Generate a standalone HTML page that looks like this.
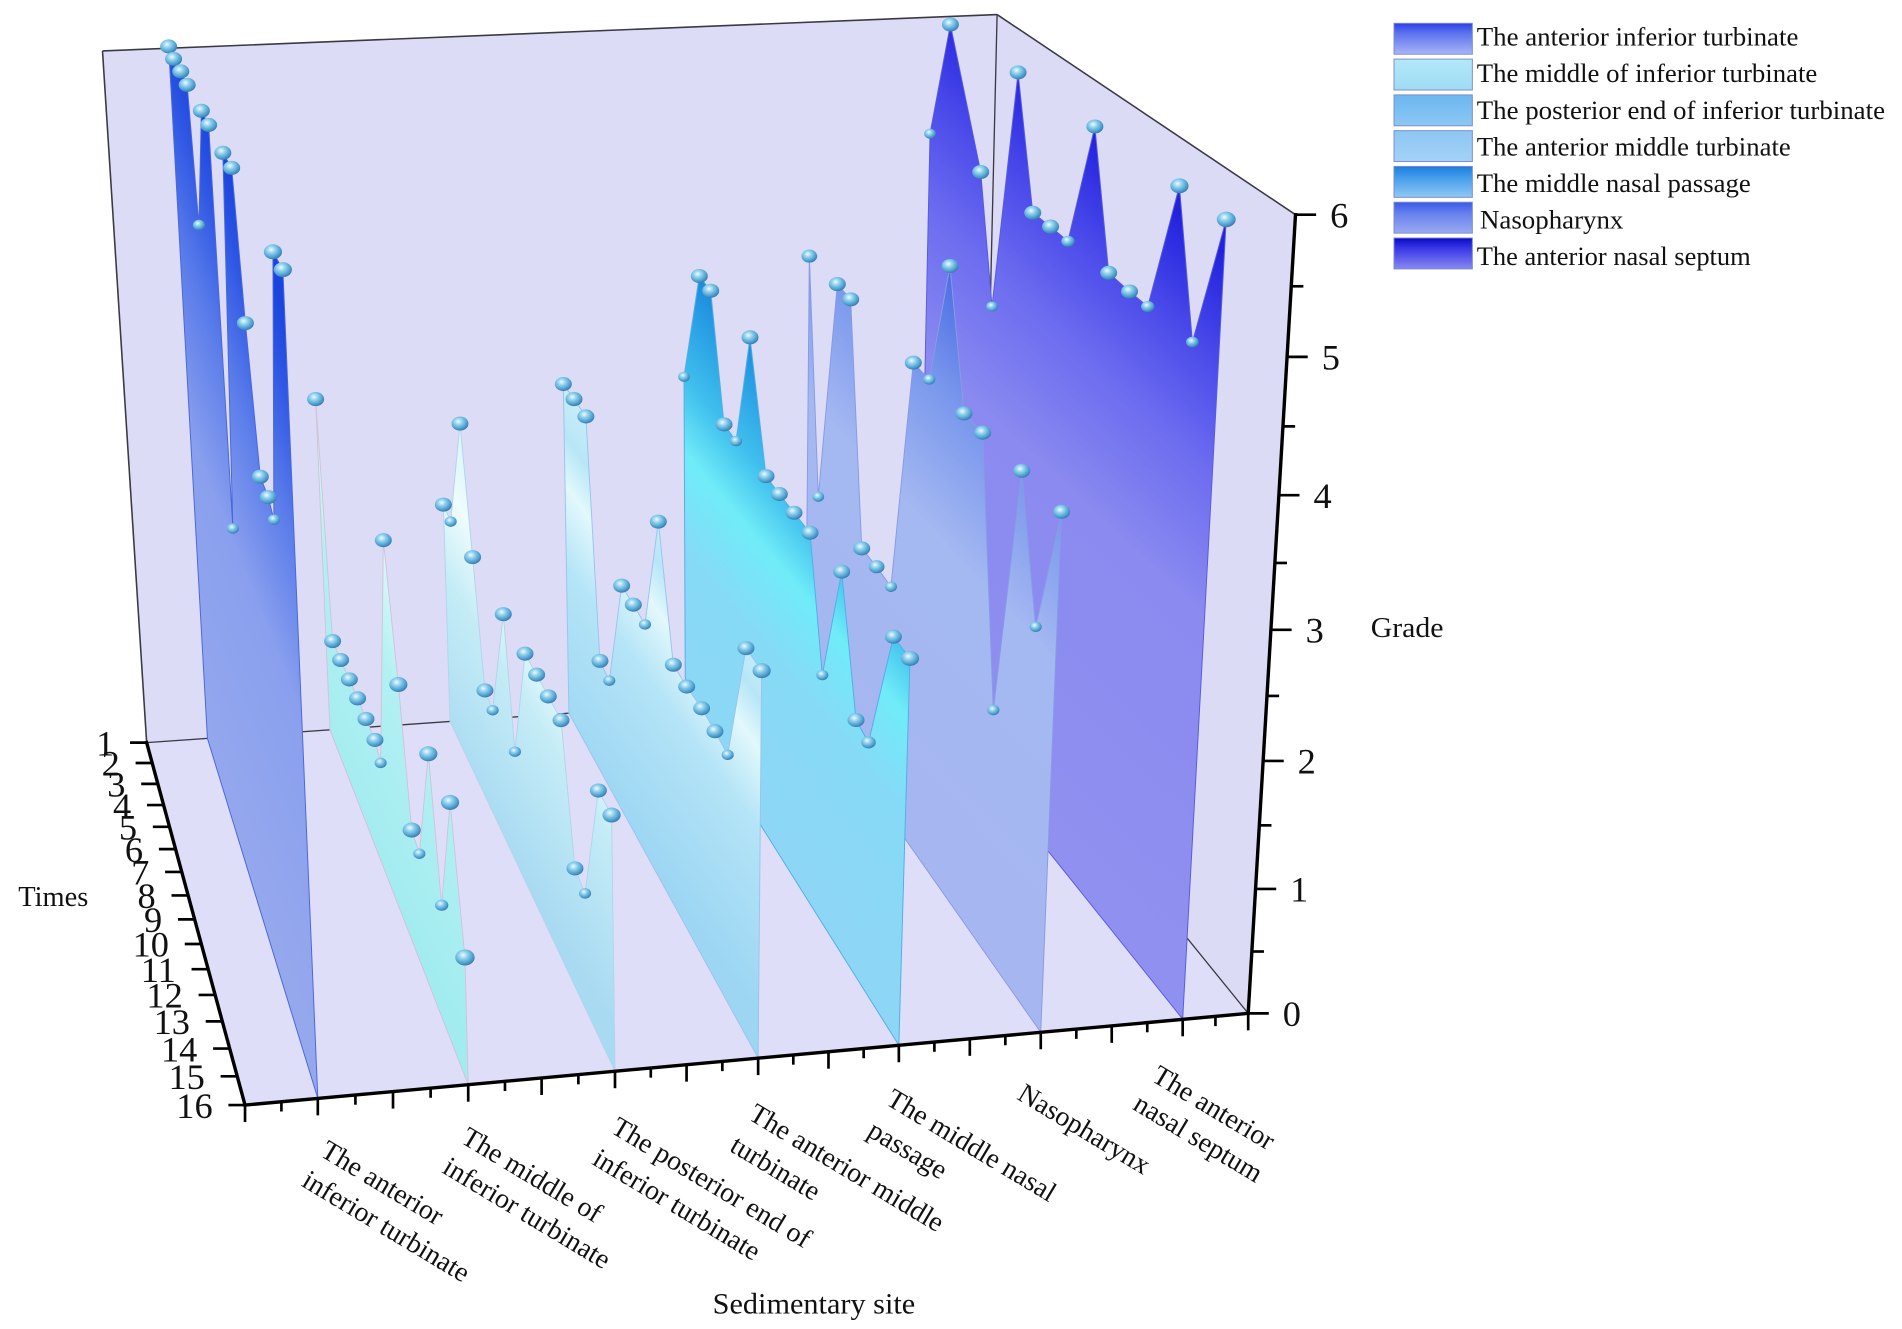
<!DOCTYPE html>
<html>
<head>
<meta charset="utf-8">
<style>
  html,body{margin:0;padding:0;background:#fff;}
  svg{display:block;}
  text{font-family:"Liberation Serif","Times New Roman",serif;fill:#111;}
</style>
</head>
<body>
<svg width="1902" height="1329" viewBox="0 0 1568 1095.6" preserveAspectRatio="none" xmlns="http://www.w3.org/2000/svg">
<defs>
  <radialGradient id="sph" cx="0.4" cy="0.35" r="0.65">
    <stop offset="0" stop-color="#effcff"/>
    <stop offset="0.35" stop-color="#92d2ef"/>
    <stop offset="0.8" stop-color="#4b9dcc"/>
    <stop offset="1" stop-color="#3a7db0"/>
  </radialGradient>
  <linearGradient id="g1" gradientUnits="userSpaceOnUse" x1="216.5" y1="757.1" x2="404.2" y2="682.4">
    <stop offset="0" stop-color="#95a8ee"/><stop offset="0.45" stop-color="#8aa0ee"/>
    <stop offset="0.7" stop-color="#5a7cea"/><stop offset="0.88" stop-color="#3058e4"/><stop offset="1" stop-color="#1a44de"/>
  </linearGradient>
  <linearGradient id="g2" gradientUnits="userSpaceOnUse" x1="329" y1="748" x2="447.2" y2="686.9">
    <stop offset="0" stop-color="#a2ecf0"/><stop offset="0.6" stop-color="#b2f0f2"/><stop offset="1" stop-color="#e2fafa"/>
  </linearGradient>
  <linearGradient id="g3" gradientUnits="userSpaceOnUse" x1="439" y1="739" x2="574" y2="653.9">
    <stop offset="0" stop-color="#a8daf2"/><stop offset="0.5" stop-color="#c4ecf6"/>
    <stop offset="0.75" stop-color="#eefcfc"/><stop offset="1" stop-color="#d6f4f8"/>
  </linearGradient>
  <linearGradient id="g4" gradientUnits="userSpaceOnUse" x1="547" y1="730.2" x2="693.1" y2="622.7">
    <stop offset="0" stop-color="#9cd6f3"/><stop offset="0.5" stop-color="#b4e4f7"/>
    <stop offset="0.72" stop-color="#e2f8fc"/><stop offset="0.85" stop-color="#b8e6f7"/><stop offset="1" stop-color="#c8eefa"/>
  </linearGradient>
  <linearGradient id="g5" gradientUnits="userSpaceOnUse" x1="653" y1="721.5" x2="852.5" y2="553.1">
    <stop offset="0" stop-color="#8ed6f6"/><stop offset="0.4" stop-color="#86daf6"/>
    <stop offset="0.6" stop-color="#70ecf8"/><stop offset="0.75" stop-color="#40c0ee"/><stop offset="1" stop-color="#1a8ade"/>
  </linearGradient>
  <linearGradient id="g6" gradientUnits="userSpaceOnUse" x1="761" y1="712.7" x2="1018.3" y2="469.9">
    <stop offset="0" stop-color="#a6b6f0"/><stop offset="0.55" stop-color="#a4b8f2"/>
    <stop offset="0.8" stop-color="#7896ec"/><stop offset="1" stop-color="#4a6ce4"/>
  </linearGradient>
  <linearGradient id="g7" gradientUnits="userSpaceOnUse" x1="866" y1="704" x2="1178.9" y2="367.7">
    <stop offset="0" stop-color="#9090f0"/><stop offset="0.5" stop-color="#8a8af0"/>
    <stop offset="0.7" stop-color="#6c6cf0"/><stop offset="0.85" stop-color="#4a4aea"/><stop offset="1" stop-color="#2222de"/>
  </linearGradient>
  <linearGradient id="l1" x1="0" y1="0" x2="0" y2="1"><stop offset="0" stop-color="#2a40e8"/><stop offset="0.3" stop-color="#5a70ee"/><stop offset="1" stop-color="#a8b4f6"/></linearGradient>
  <linearGradient id="l2" x1="0" y1="0" x2="0" y2="1"><stop offset="0" stop-color="#b4e8f8"/><stop offset="1" stop-color="#9edcf5"/></linearGradient>
  <linearGradient id="l3" x1="0" y1="0" x2="0" y2="1"><stop offset="0" stop-color="#6cb6f0"/><stop offset="1" stop-color="#8cc8f4"/></linearGradient>
  <linearGradient id="l4" x1="0" y1="0" x2="0" y2="1"><stop offset="0" stop-color="#8cc6f3"/><stop offset="1" stop-color="#a4d2f6"/></linearGradient>
  <linearGradient id="l5" x1="0" y1="0" x2="0" y2="1"><stop offset="0" stop-color="#1a7ee0"/><stop offset="0.4" stop-color="#4aa0ec"/><stop offset="1" stop-color="#90c8f4"/></linearGradient>
  <linearGradient id="l6" x1="0" y1="0" x2="0" y2="1"><stop offset="0" stop-color="#3a5ae8"/><stop offset="0.4" stop-color="#6a84ee"/><stop offset="1" stop-color="#9aaaf2"/></linearGradient>
  <linearGradient id="l7" x1="0" y1="0" x2="0" y2="1"><stop offset="0" stop-color="#0a0ac8"/><stop offset="0.35" stop-color="#3a3ae8"/><stop offset="1" stop-color="#8888f0"/></linearGradient>
</defs>

<!-- panes -->
<polygon points="84.5,42 822,12 809,564.2 120.9,612.2" fill="#dddcf6"/>
<polygon points="822,12 1068,177 1029,835.4 809,564.2" fill="#dcdbf5"/>
<polygon points="120.9,612.2 809,564.2 1029,835.4 202,911" fill="#dfdef8"/>
<g stroke="#3a3a44" fill="none">
  <line x1="84.5" y1="42" x2="822" y2="12" stroke-width="1.3"/>
  <line x1="84.5" y1="42" x2="120.9" y2="612.2" stroke-width="1.3"/>
  <line x1="822" y1="12" x2="809" y2="564.2" stroke-width="1.1"/>
  <line x1="822" y1="12" x2="1068" y2="177" stroke-width="1.3"/>
  <line x1="120.9" y1="612.2" x2="809" y2="564.2" stroke-width="1.1"/>
  <line x1="809" y1="564.2" x2="1029" y2="835.4" stroke-width="1.1"/>
</g>

<!-- Wall 7 -->
<polygon fill="url(#g7)" stroke="#5a5ae0" stroke-width="0.8" points="757,567.9 766.7,110.2 783.5,20.2 808.5,141.8 817.8,252.7 839.3,59.7 851.4,175.4 866.1,186.8 880.4,198.9 902.6,104.3 914,224.9 931.2,240.3 946.2,252.7 972.3,153.2 983,282 1010.9,180.9 975,840.1"/>
<g fill="url(#sph)">
<ellipse cx="766.7" cy="110.2" rx="4.8" ry="4.2"/><ellipse cx="783.5" cy="20.2" rx="7" ry="5.8"/><ellipse cx="808.5" cy="141.8" rx="7" ry="5.8"/><ellipse cx="817.8" cy="252.7" rx="4.8" ry="4.2"/><ellipse cx="839.3" cy="59.7" rx="7" ry="5.8"/><ellipse cx="851.4" cy="175.4" rx="7" ry="5.8"/><ellipse cx="866.1" cy="186.8" rx="7" ry="5.8"/><ellipse cx="880.4" cy="198.9" rx="5.5" ry="4.6"/><ellipse cx="902.6" cy="104.3" rx="7" ry="5.8"/><ellipse cx="914" cy="224.9" rx="7" ry="5.8"/><ellipse cx="931.2" cy="240.3" rx="7" ry="5.8"/><ellipse cx="946.2" cy="252.7" rx="5.5" ry="4.6"/><ellipse cx="972.3" cy="153.2" rx="7.5" ry="6.2"/><ellipse cx="983" cy="282" rx="5.2" ry="4.4"/><ellipse cx="1010.9" cy="180.9" rx="7.8" ry="6.4"/>
</g>

<!-- Wall 6 -->
<polygon fill="url(#g6)" stroke="#8a9ae6" stroke-width="0.8" points="664,574.4 667.2,211.1 674.6,409.5 690.3,234.2 701.3,246.8 710.4,452.1 722.7,467.2 734.5,483.7 752.9,299 766.1,312.8 783.2,219.3 794.7,340.8 810.1,356.7 818.9,585.4 842.3,388.1 853.8,516.7 875.2,421.9 858,851"/>
<g fill="url(#sph)">
<ellipse cx="667.2" cy="211.1" rx="6.5" ry="5.4"/><ellipse cx="674.6" cy="409.5" rx="4.8" ry="4.2"/><ellipse cx="690.3" cy="234.2" rx="7" ry="5.8"/><ellipse cx="701.3" cy="246.8" rx="7" ry="5.8"/><ellipse cx="710.4" cy="452.1" rx="7" ry="5.8"/><ellipse cx="722.7" cy="467.2" rx="6.5" ry="5.4"/><ellipse cx="734.5" cy="483.7" rx="5" ry="4.3"/><ellipse cx="752.9" cy="299" rx="7" ry="5.8"/><ellipse cx="766.1" cy="312.8" rx="5" ry="4.3"/><ellipse cx="783.2" cy="219.3" rx="7" ry="5.8"/><ellipse cx="794.7" cy="340.8" rx="7" ry="5.8"/><ellipse cx="810.1" cy="356.7" rx="7" ry="5.8"/><ellipse cx="818.9" cy="585.4" rx="5" ry="4.3"/><ellipse cx="842.3" cy="388.1" rx="7" ry="5.8"/><ellipse cx="853.8" cy="516.7" rx="5" ry="4.3"/><ellipse cx="875.2" cy="421.9" rx="7" ry="5.8"/>
</g>

<!-- Wall 5 -->
<polygon fill="url(#g5)" stroke="#52aee6" stroke-width="0.8" points="565,581.3 563.9,310.6 576.5,227.6 585.9,239.7 596.9,349.9 606.8,363.6 618.3,278.1 631.5,392.5 642.5,407.3 654.6,422.7 667.8,439.2 677.9,556.5 693.9,471.3 705.7,593.6 716,612 736.5,524.9 750.2,542.8 741,861.7"/>
<g fill="url(#sph)">
<ellipse cx="563.9" cy="310.6" rx="4.8" ry="4.2"/><ellipse cx="576.5" cy="227.6" rx="7" ry="5.8"/><ellipse cx="585.9" cy="239.7" rx="7" ry="5.8"/><ellipse cx="596.9" cy="349.9" rx="7" ry="5.8"/><ellipse cx="606.8" cy="363.6" rx="5" ry="4.3"/><ellipse cx="618.3" cy="278.1" rx="7" ry="5.8"/><ellipse cx="631.5" cy="392.5" rx="7" ry="5.8"/><ellipse cx="642.5" cy="407.3" rx="7" ry="5.8"/><ellipse cx="654.6" cy="422.7" rx="7" ry="5.8"/><ellipse cx="667.8" cy="439.2" rx="7" ry="5.8"/><ellipse cx="677.9" cy="556.5" rx="5" ry="4.3"/><ellipse cx="693.9" cy="471.3" rx="7" ry="5.8"/><ellipse cx="705.7" cy="593.6" rx="7" ry="5.8"/><ellipse cx="716" cy="612" rx="6" ry="5"/><ellipse cx="736.5" cy="524.9" rx="7" ry="5.8"/><ellipse cx="750.2" cy="542.8" rx="7.5" ry="6.2"/>
</g>

<!-- Wall 4 -->
<polygon fill="url(#g4)" stroke="#9cc4ec" stroke-width="0.8" points="469,588 464.4,316.6 473.2,329 483,343.3 494.6,544.8 502.3,561.1 512.5,482.8 522.1,498.5 531.7,514.8 542.7,430 555.1,548 566.1,566 578.4,583.9 589.4,602.8 599.9,622.3 615,534.3 627.9,552.9 625,872.3"/>
<g fill="url(#sph)">
<ellipse cx="464.4" cy="316.6" rx="7" ry="5.8"/><ellipse cx="473.2" cy="329" rx="7" ry="5.8"/><ellipse cx="483" cy="343.3" rx="7" ry="5.8"/><ellipse cx="494.6" cy="544.8" rx="7" ry="5.8"/><ellipse cx="502.3" cy="561.1" rx="5" ry="4.3"/><ellipse cx="512.5" cy="482.8" rx="7" ry="5.8"/><ellipse cx="522.1" cy="498.5" rx="7" ry="5.8"/><ellipse cx="531.7" cy="514.8" rx="5" ry="4.3"/><ellipse cx="542.7" cy="430" rx="7" ry="5.8"/><ellipse cx="555.1" cy="548" rx="7" ry="5.8"/><ellipse cx="566.1" cy="566" rx="7" ry="5.8"/><ellipse cx="578.4" cy="583.9" rx="7" ry="5.8"/><ellipse cx="589.4" cy="602.8" rx="7" ry="5.8"/><ellipse cx="599.9" cy="622.3" rx="5" ry="4.3"/><ellipse cx="615" cy="534.3" rx="7" ry="5.8"/><ellipse cx="627.9" cy="552.9" rx="7.5" ry="6.2"/>
</g>

<!-- Wall 3 -->
<polygon fill="url(#g3)" stroke="#b4d4ec" stroke-width="0.8" points="371,594.8 365.5,416 371.5,430 379.2,349.2 389.6,459.3 399.8,569.2 406.1,585.5 414.9,506.3 424.5,619.7 432.8,538.9 442.4,556.2 452,574.1 462.5,593.7 474,715.9 482.3,736.5 493.3,651.7 504.2,671.9 507,883.1"/>
<g fill="url(#sph)">
<ellipse cx="365.5" cy="416" rx="7" ry="5.8"/><ellipse cx="371.5" cy="430" rx="5" ry="4.3"/><ellipse cx="379.2" cy="349.2" rx="7" ry="5.8"/><ellipse cx="389.6" cy="459.3" rx="7" ry="5.8"/><ellipse cx="399.8" cy="569.2" rx="7" ry="5.8"/><ellipse cx="406.1" cy="585.5" rx="5" ry="4.3"/><ellipse cx="414.9" cy="506.3" rx="7" ry="5.8"/><ellipse cx="424.5" cy="619.7" rx="5" ry="4.3"/><ellipse cx="432.8" cy="538.9" rx="7" ry="5.8"/><ellipse cx="442.4" cy="556.2" rx="7" ry="5.8"/><ellipse cx="452" cy="574.1" rx="7" ry="5.8"/><ellipse cx="462.5" cy="593.7" rx="7" ry="5.8"/><ellipse cx="474" cy="715.9" rx="7" ry="5.8"/><ellipse cx="482.3" cy="736.5" rx="5" ry="4.3"/><ellipse cx="493.3" cy="651.7" rx="7" ry="5.8"/><ellipse cx="504.2" cy="671.9" rx="7.5" ry="6.2"/>
</g>

<!-- Wall 2 -->
<polygon fill="url(#g2)" stroke="#cfc4dc" stroke-width="0.8" points="272,601.7 260.2,329 274.2,528.5 280.8,544.1 288,560.1 294.8,575.7 301.7,592.7 309.1,610 313.8,628.9 316,445.3 328.4,564.3 339.4,684.3 345.7,703.8 353.1,621.4 364.1,746.2 371,661.5 383.3,789.3 386,894.2"/>
<g fill="url(#sph)">
<ellipse cx="260.2" cy="329" rx="7" ry="5.8"/><ellipse cx="274.2" cy="528.5" rx="7" ry="5.8"/><ellipse cx="280.8" cy="544.1" rx="7" ry="5.8"/><ellipse cx="288" cy="560.1" rx="7" ry="5.8"/><ellipse cx="294.8" cy="575.7" rx="7" ry="5.8"/><ellipse cx="301.7" cy="592.7" rx="7" ry="5.8"/><ellipse cx="309.1" cy="610" rx="7" ry="5.8"/><ellipse cx="313.8" cy="628.9" rx="5" ry="4.3"/><ellipse cx="316" cy="445.3" rx="7" ry="5.8"/><ellipse cx="328.4" cy="564.3" rx="7.5" ry="6.2"/><ellipse cx="339.4" cy="684.3" rx="7.5" ry="6.2"/><ellipse cx="345.7" cy="703.8" rx="5" ry="4.3"/><ellipse cx="353.1" cy="621.4" rx="7.5" ry="6.2"/><ellipse cx="364.1" cy="746.2" rx="5.5" ry="4.6"/><ellipse cx="371" cy="661.5" rx="7.5" ry="6.2"/><ellipse cx="383.3" cy="789.3" rx="8" ry="6.6"/>
</g>

<!-- Wall 1 -->
<polygon fill="url(#g1)" stroke="#4a66dc" stroke-width="0.8" points="171,608.7 139,38.3 143.1,48.6 149,58.9 154.3,70 164,185.5 166,91.3 172,103 192,435.7 183.7,126 191,138.4 202.3,266.4 214.6,393 221.1,409.8 225.8,428.4 225,207.6 233.2,222.3 262,905.5"/>
<g fill="url(#sph)">
<ellipse cx="139" cy="38.3" rx="7" ry="5.8"/><ellipse cx="143.1" cy="48.6" rx="7" ry="5.8"/><ellipse cx="149" cy="58.9" rx="7" ry="5.8"/><ellipse cx="154.3" cy="70" rx="7" ry="5.8"/><ellipse cx="164" cy="185.5" rx="5" ry="4.3"/><ellipse cx="166" cy="91.3" rx="7" ry="5.8"/><ellipse cx="172" cy="103" rx="7" ry="5.8"/><ellipse cx="192" cy="435.7" rx="5" ry="4.3"/><ellipse cx="183.7" cy="126" rx="7" ry="5.8"/><ellipse cx="191" cy="138.4" rx="7" ry="5.8"/><ellipse cx="202.3" cy="266.4" rx="7" ry="5.8"/><ellipse cx="214.6" cy="393" rx="7" ry="5.8"/><ellipse cx="221.1" cy="409.8" rx="7" ry="5.8"/><ellipse cx="225.8" cy="428.4" rx="5" ry="4.3"/><ellipse cx="225" cy="207.6" rx="7.5" ry="6.2"/><ellipse cx="233.2" cy="222.3" rx="7.5" ry="6.2"/>
</g>

<!-- axes -->
<g stroke="#000" fill="none" stroke-linecap="square">
  <line x1="120.9" y1="612.2" x2="202" y2="911" stroke-width="2.8"/>
  <line x1="202" y1="911" x2="1029" y2="835.4" stroke-width="2.8"/>
  <line x1="1029" y1="835.4" x2="1068" y2="177" stroke-width="2.8"/>
</g>
<!-- times ticks -->
<g stroke="#000" stroke-width="2.2">
  <line x1="107.2" y1="612.2" x2="120.9" y2="612.2"/>
  <line x1="111.8" y1="629" x2="125.5" y2="629"/>
  <line x1="116.4" y1="646.2" x2="130.1" y2="646.2"/>
  <line x1="121.2" y1="663.7" x2="134.9" y2="663.7"/>
  <line x1="126" y1="681.6" x2="139.7" y2="681.6"/>
  <line x1="131" y1="700" x2="144.7" y2="700"/>
  <line x1="136.1" y1="718.8" x2="149.8" y2="718.8"/>
  <line x1="141.4" y1="738.2" x2="155.1" y2="738.2"/>
  <line x1="146.7" y1="757.9" x2="160.4" y2="757.9"/>
  <line x1="152.3" y1="778.2" x2="166" y2="778.2"/>
  <line x1="157.9" y1="799" x2="171.6" y2="799"/>
  <line x1="163.7" y1="820.2" x2="177.4" y2="820.2"/>
  <line x1="169.6" y1="842" x2="183.3" y2="842"/>
  <line x1="175.7" y1="864.4" x2="189.4" y2="864.4"/>
  <line x1="181.9" y1="887.3" x2="195.6" y2="887.3"/>
  <line x1="188.3" y1="911" x2="202" y2="911"/>
</g>
<g font-size="30" text-anchor="end">
  <text x="94.2" y="622.7">1</text><text x="98.8" y="639.5">2</text><text x="103.4" y="656.7">3</text><text x="108.2" y="674.2">4</text>
  <text x="113" y="692.1">5</text><text x="118" y="710.5">6</text><text x="123.1" y="729.3">7</text><text x="128.4" y="748.7">8</text>
  <text x="133.7" y="768.4">9</text><text x="139.3" y="788.7">10</text><text x="144.9" y="809.5">11</text><text x="150.7" y="830.7">12</text>
  <text x="156.6" y="852.5">13</text><text x="162.7" y="874.9">14</text><text x="168.9" y="897.8">15</text><text x="175.3" y="921.5">16</text>
</g>
<!-- site ticks -->
<g stroke="#000" stroke-width="2.2">
  <line x1="202" y1="911" x2="202" y2="925"/><line x1="232" y1="908.3" x2="232" y2="916.3"/>
  <line x1="262" y1="905.5" x2="262" y2="919.5"/><line x1="293" y1="902.7" x2="293" y2="910.7"/>
  <line x1="324" y1="899.9" x2="324" y2="913.9"/><line x1="355" y1="897" x2="355" y2="905"/>
  <line x1="386" y1="894.2" x2="386" y2="908.2"/><line x1="416.3" y1="891.4" x2="416.3" y2="899.4"/>
  <line x1="446.5" y1="888.7" x2="446.5" y2="902.7"/><line x1="476.8" y1="885.9" x2="476.8" y2="893.9"/>
  <line x1="507" y1="883.1" x2="507" y2="897.1"/><line x1="536.5" y1="880.4" x2="536.5" y2="888.4"/>
  <line x1="566" y1="877.7" x2="566" y2="891.7"/><line x1="595.5" y1="875" x2="595.5" y2="883"/>
  <line x1="625" y1="872.3" x2="625" y2="886.3"/><line x1="654" y1="869.7" x2="654" y2="877.7"/>
  <line x1="683" y1="867" x2="683" y2="881"/><line x1="712" y1="864.4" x2="712" y2="872.4"/>
  <line x1="741" y1="861.7" x2="741" y2="875.7"/><line x1="770.3" y1="859.1" x2="770.3" y2="867.1"/>
  <line x1="799.5" y1="856.4" x2="799.5" y2="870.4"/><line x1="828.8" y1="853.7" x2="828.8" y2="861.7"/>
  <line x1="858" y1="851" x2="858" y2="865"/><line x1="887.3" y1="848.4" x2="887.3" y2="856.4"/>
  <line x1="916.5" y1="845.7" x2="916.5" y2="859.7"/><line x1="945.8" y1="843" x2="945.8" y2="851"/>
  <line x1="975" y1="840.3" x2="975" y2="854.3"/><line x1="1002" y1="837.9" x2="1002" y2="845.9"/>
  <line x1="1029" y1="835.4" x2="1029" y2="849.4"/>
</g>
<!-- z ticks -->
<g stroke="#000" stroke-width="2.2">
  <line x1="1029" y1="835.4" x2="1046" y2="835.4"/><line x1="1032" y1="784.4" x2="1042" y2="784.4"/>
  <line x1="1035.1" y1="732.8" x2="1052.1" y2="732.8"/><line x1="1038.2" y1="680.4" x2="1048.2" y2="680.4"/>
  <line x1="1041.3" y1="627.3" x2="1058.3" y2="627.3"/><line x1="1044.5" y1="573.7" x2="1054.5" y2="573.7"/>
  <line x1="1047.8" y1="519.2" x2="1064.8" y2="519.2"/><line x1="1051" y1="464.1" x2="1061" y2="464.1"/>
  <line x1="1054.3" y1="408.2" x2="1071.3" y2="408.2"/><line x1="1057.7" y1="351.5" x2="1067.7" y2="351.5"/>
  <line x1="1061.1" y1="294.2" x2="1078.1" y2="294.2"/><line x1="1064.5" y1="236" x2="1074.5" y2="236"/>
  <line x1="1068" y1="177" x2="1085" y2="177"/>
</g>
<g font-size="30" text-anchor="middle">
  <text x="1065" y="845.9">0</text><text x="1071.1" y="743.3">1</text><text x="1077.3" y="637.8">2</text>
  <text x="1083.8" y="529.7">3</text><text x="1090.3" y="418.7">4</text><text x="1097.1" y="304.7">5</text><text x="1104" y="187.5">6</text>
</g>

<!-- axis titles -->
<text x="15.1" y="747" font-size="23.5" textLength="57.7" lengthAdjust="spacingAndGlyphs">Times</text>
<text x="1130" y="525" font-size="23.5" textLength="60" lengthAdjust="spacingAndGlyphs">Grade</text>
<text x="671" y="1083" font-size="24" text-anchor="middle" textLength="167" lengthAdjust="spacingAndGlyphs">Sedimentary site</text>

<!-- site labels -->
<g font-size="23">
  <text transform="translate(263 952.4) rotate(31)">The anterior</text>
  <text transform="translate(247.5 977.1) rotate(31)">inferior turbinate</text>
  <text transform="translate(378.9 941.4) rotate(31)">The middle of</text>
  <text transform="translate(363.5 966.1) rotate(31)">inferior turbinate</text>
  <text transform="translate(502.6 933.1) rotate(31)">The posterior end of</text>
  <text transform="translate(487.1 959.2) rotate(31)">inferior turbinate</text>
  <text transform="translate(616 922.1) rotate(31)">The anterior middle</text>
  <text transform="translate(600.5 948.2) rotate(31)">turbinate</text>
  <text transform="translate(729.3 909.8) rotate(31)">The middle nasal</text>
  <text transform="translate(713.9 935.9) rotate(31)">passage</text>
  <text transform="translate(837.5 905.6) rotate(31)">Nasopharynx</text>
  <text transform="translate(948.4 890.5) rotate(31)">The anterior</text>
  <text transform="translate(932.9 913.9) rotate(31)">nasal septum</text>
</g>

<!-- legend -->
<g stroke="#7f8ccc" stroke-width="0.8">
  <rect x="1149.2" y="19.2" width="64.6" height="25.5" fill="url(#l1)"/>
  <rect x="1149.2" y="48.7" width="64.6" height="25.5" fill="url(#l2)"/>
  <rect x="1149.2" y="78.2" width="64.6" height="25.5" fill="url(#l3)"/>
  <rect x="1149.2" y="107.7" width="64.6" height="25.5" fill="url(#l4)"/>
  <rect x="1149.2" y="137.2" width="64.6" height="25.5" fill="url(#l5)"/>
  <rect x="1149.2" y="166.7" width="64.6" height="25.5" fill="url(#l6)"/>
  <rect x="1149.2" y="196.2" width="64.6" height="25.5" fill="url(#l7)"/>
</g>
<g font-size="22">
  <text x="1217.4" y="37.7" textLength="265.2" lengthAdjust="spacingAndGlyphs">The anterior inferior turbinate</text>
  <text x="1217.4" y="67.8" textLength="280.8" lengthAdjust="spacingAndGlyphs">The middle of inferior turbinate</text>
  <text x="1217.4" y="97.9" textLength="336.6" lengthAdjust="spacingAndGlyphs">The posterior end of inferior turbinate</text>
  <text x="1217.4" y="128" textLength="258.9" lengthAdjust="spacingAndGlyphs">The anterior middle turbinate</text>
  <text x="1217.4" y="158.1" textLength="225.9" lengthAdjust="spacingAndGlyphs">The middle nasal passage</text>
  <text x="1220.1" y="188.2" textLength="118.2" lengthAdjust="spacingAndGlyphs">Nasopharynx</text>
  <text x="1217.4" y="218.3" textLength="225.9" lengthAdjust="spacingAndGlyphs">The anterior nasal septum</text>
</g>
</svg>
</body>
</html>
